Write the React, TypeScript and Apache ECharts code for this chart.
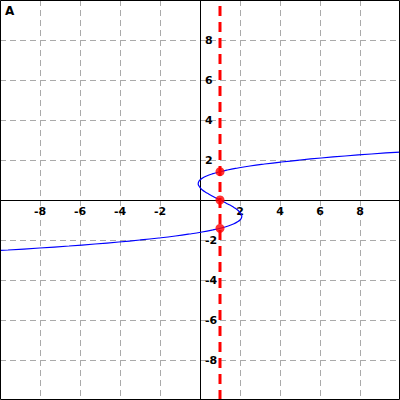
import React, { useEffect, useRef } from "react";
import * as echarts from "echarts";

// Curve points: [x, y]
const curveX = [-11.38, -9.6, -8.02, -6.55, -5.25, -4.06, -3.0, -2.06, -1.23, -0.52, 0.1, 0.62, 1.06, 1.41, 1.67, 1.86, 2.0, 2.07, 2.09, 2.06, 1.98, 1.88, 1.74, 1.58, 1.39, 1.2, 1.0, 0.8, 0.61, 0.43, 0.26, 0.12, 0.02, -0.05, -0.09, -0.07, 0.0, 0.13, 0.33, 0.6, 0.94, 1.37, 1.9, 2.5, 3.23, 4.06, 5.0, 6.06, 7.25, 8.57, 10.02, 11.62, 13.38];
const curveY = [-2.6, -2.5, -2.4, -2.3, -2.2, -2.1, -2.0, -1.9, -1.8, -1.7, -1.6, -1.5, -1.4, -1.3, -1.2, -1.1, -1.0, -0.9, -0.8, -0.7, -0.6, -0.5, -0.4, -0.3, -0.2, -0.1, 0.0, 0.1, 0.2, 0.3, 0.4, 0.5, 0.6, 0.7, 0.8, 0.9, 1.0, 1.1, 1.2, 1.3, 1.4, 1.5, 1.6, 1.7, 1.8, 1.9, 2.0, 2.1, 2.2, 2.3, 2.4, 2.5, 2.6];

// Vertical dashed line x = 1
const lineX = 1;
// Marked points on x = 1
const pointsY = [1.414, 0, -1.414];

const AXIS_MIN = -10;
const AXIS_MAX = 10;
const TICK = 2;

export default function App() {
  const ref = useRef<HTMLDivElement>(null);
  useEffect(() => {
    const chart = echarts.init(ref.current!, null, { renderer: "svg" });
    const labelFmt = (v: number) => (v === 0 ? "" : String(v));
    const labelStyle = {
      color: "#000",
      fontSize: 11,
      fontWeight: "bold" as const,
      fontFamily: "DejaVu Sans",
    };
    chart.setOption({
      animation: false,
      backgroundColor: "#fff",
      grid: {
        left: 0,
        right: 0,
        top: 0,
        bottom: 0,
        outerBoundsMode: "none",
        containLabel: false,
        show: false,
      },
      xAxis: {
        type: "value",
        min: AXIS_MIN,
        max: AXIS_MAX,
        interval: TICK,
        position: "bottom",
        offset: -200,
        axisLine: { onZero: false, lineStyle: { color: "#000", width: 1 } },
        axisTick: { show: false },
        axisLabel: {
          ...labelStyle,
          margin: 6,
          showMinLabel: false,
          showMaxLabel: false,
          formatter: labelFmt,
        },
        splitLine: {
          show: true,
          lineStyle: { color: "#aaa", type: [6, 4], width: 1 },
        },
      },
      yAxis: {
        type: "value",
        min: AXIS_MIN,
        max: AXIS_MAX,
        interval: TICK,
        position: "left",
        offset: -200,
        axisLine: { onZero: false, lineStyle: { color: "#000", width: 1 } },
        axisTick: { show: false },
        axisLabel: {
          ...labelStyle,
          inside: true,
          margin: 5,
          showMinLabel: false,
          showMaxLabel: false,
          formatter: labelFmt,
        },
        splitLine: {
          show: true,
          lineStyle: { color: "#aaa", type: [6, 4], width: 1 },
        },
      },
      graphic: [
        {
          type: "rect",
          shape: { x: 0.5, y: 0.5, width: 399, height: 399 },
          style: { fill: "none", stroke: "#000", lineWidth: 1 },
          silent: true,
          z: 10,
        },
        {
          type: "text",
          left: 5,
          top: 5,
          style: {
            text: "A",
            fill: "#000",
            font: "bold 12px DejaVu Sans",
          },
        },
      ],
      series: [
        {
          type: "line",
          data: curveX.map((x, i) => [x, curveY[i]]),
          showSymbol: false,
          smooth: true,
          lineStyle: { color: "#0000ff", width: 1.2 },
          z: 3,
        },
        {
          type: "line",
          data: [
            [lineX, AXIS_MIN],
            [lineX, AXIS_MAX],
          ],
          showSymbol: false,
          lineStyle: { color: "#ff0000", width: 3, type: [10, 6] },
          z: 4,
        },
        {
          type: "scatter",
          data: pointsY.map((y) => [lineX, y]),
          symbolSize: 9,
          itemStyle: { color: "#ff0000" },
          z: 5,
        },
      ],
    });
    return () => chart.dispose();
  }, []);
  return (
    <div
      ref={ref}
      style={{ position: "fixed", left: 0, top: 0, width: 400, height: 400 }}
    />
  );
}
